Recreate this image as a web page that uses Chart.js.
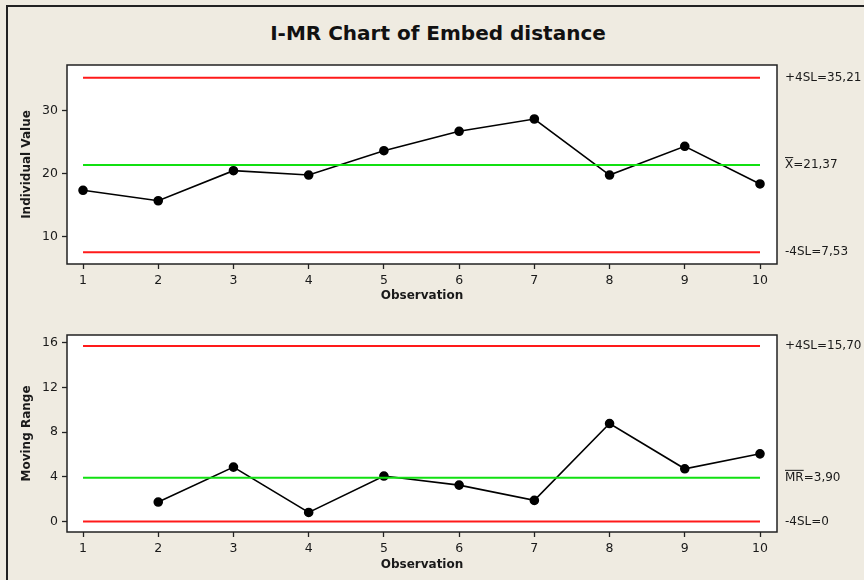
<!DOCTYPE html>
<html>
<head>
<meta charset="utf-8">
<script src="https://cdn.jsdelivr.net/npm/chart.js@4"></script>
<style>
  html, body { margin: 0; padding: 0; }
  body { width: 864px; height: 580px; background: #efebe1; position: relative; overflow: hidden; font-family: "DejaVu Sans", sans-serif; }
  #frame { position: absolute; left: 6px; top: 5px; width: 900px; height: 620px; border: 2px solid #222; }
  #title { position: absolute; left: 0; top: 20px; width: 876px; text-align: center; font: bold 20px "DejaVu Sans", sans-serif; color: #111; line-height: 26px; }
  canvas { position: absolute; left: 0; }
  #iChart { top: 0; }
  #mrChart { top: 300px; }
</style>
</head>
<body>
<div id="frame"></div>
<div id="title">I-MR Chart of Embed distance</div>
<canvas id="iChart" width="864" height="320"></canvas>
<canvas id="mrChart" width="864" height="280"></canvas>
<script>
// Dados
const observations = [1, 2, 3, 4, 5, 6, 7, 8, 9, 10];
const individualValues = [17.37, 15.71, 20.48, 19.79, 23.65, 26.73, 28.68, 19.79, 24.35, 18.37];
const movingRanges = [null, 1.73, 4.86, 0.80, 4.06, 3.25, 1.88, 8.76, 4.71, 6.05];

// Limites de controle: superior, central, inferior
const iLimits = [35.21, 21.37, 7.53];
const iLimitLabels = [["", "+4SL=35,21"], ["X", "=21,37"], ["", "-4SL=7,53"]];
const mrLimits = [15.70, 3.90, 0];
const mrLimitLabels = [["", "+4SL=15,70"], ["MR", "=3,90"], ["", "-4SL=0"]];

const iTicks = [10, 20, 30];
const mrTicks = [0, 4, 8, 12, 16];

const COLORS = { ucl: "#ff1a1a", center: "#11e011", data: "#000000", text: "#1a1a1a" };
const limitColors = [COLORS.ucl, COLORS.center, COLORS.ucl];

// Fundo branco e moldura da área do gráfico
const plotFrame = {
  id: "plotFrame",
  beforeDraw(chart) {
    const a = chart.chartArea, ctx = chart.ctx;
    ctx.save();
    ctx.fillStyle = "#ffffff";
    ctx.fillRect(a.left, a.top, a.right - a.left, a.bottom - a.top);
    ctx.restore();
  },
  afterDraw(chart) {
    const a = chart.chartArea, ctx = chart.ctx;
    ctx.save();
    ctx.strokeStyle = "#222";
    ctx.lineWidth = 1.5;
    ctx.strokeRect(a.left, a.top, a.right - a.left, a.bottom - a.top);

    // Rótulos dos limites à direita
    const labels = chart.options.plugins.plotFrame.labels;
    const values = chart.options.plugins.plotFrame.values;
    ctx.font = "12px 'DejaVu Sans'";
    ctx.fillStyle = COLORS.text;
    ctx.textBaseline = "middle";
    ctx.textAlign = "left";
    values.forEach((v, i) => {
      const y = chart.scales.y.getPixelForValue(v);
      let x = a.right + 8;
      const [barred, rest] = labels[i];
      if (barred) {
        const w = ctx.measureText(barred).width;
        ctx.fillText(barred, x, y);
        ctx.fillRect(x, y - 8, w, 1);
        x += w;
      }
      ctx.fillText(rest, x, y);
    });
    ctx.restore();
  }
};

const limitDatasets = (limits) => limits.map((v, i) => ({
  data: [{ x: observations[0], y: v }, { x: observations[observations.length - 1], y: v }],
  borderColor: limitColors[i],
  borderWidth: 2,
  pointRadius: 0,
  fill: false
}));

const makeChart = (el, cfg) => new Chart(el, {
  type: "line",
  data: {
    datasets: [
      ...limitDatasets(cfg.limits),
      {
        data: observations.map((x, i) => ({ x, y: cfg.values[i] })),
        borderColor: COLORS.data,
        backgroundColor: COLORS.data,
        borderWidth: 1.6,
        pointRadius: 4,
        pointHoverRadius: 4,
        tension: 0,
        spanGaps: false
      }
    ]
  },
  options: {
    responsive: false,
    animation: false,
    layout: { padding: { left: 16, right: 87, top: cfg.padTop, bottom: cfg.padBottom } },
    scales: {
      x: {
        type: "linear",
        min: 0.787,
        max: 10.226,
        afterBuildTicks: (s) => { s.ticks = observations.map(v => ({ value: v })); },
        afterFit: (s) => { s.height = cfg.xHeight; },
        ticks: { color: COLORS.text, font: { family: "DejaVu Sans", size: 12.5 }, padding: 4, maxRotation: 0 },
        grid: { drawOnChartArea: false, drawTicks: true, tickLength: 5, tickColor: "#222", tickWidth: 1.3 },
        border: { display: false },
        title: { display: true, text: "Observation", color: COLORS.text, font: { family: "DejaVu Sans", size: 12, weight: "bold" } }
      },
      y: {
        min: cfg.yMin,
        max: cfg.yMax,
        afterBuildTicks: (s) => { s.ticks = cfg.ticks.map(v => ({ value: v })); },
        afterFit: (s) => { s.width = 51; },
        ticks: { color: COLORS.text, font: { family: "DejaVu Sans", size: 12.5 }, padding: 4 },
        grid: { drawOnChartArea: false, drawTicks: true, tickLength: 5, tickColor: "#222", tickWidth: 1.3 },
        border: { display: false },
        title: { display: true, text: cfg.yTitle, color: COLORS.text, font: { family: "DejaVu Sans", size: 12, weight: "bold" } }
      }
    },
    plugins: {
      legend: { display: false },
      tooltip: { enabled: false },
      plotFrame: { labels: cfg.labels, values: cfg.limits }
    }
  },
  plugins: [plotFrame]
});

makeChart(document.getElementById("iChart"), {
  values: individualValues, limits: iLimits, labels: iLimitLabels, ticks: iTicks,
  yMin: 5.67, yMax: 37.25, yTitle: "Individual Value",
  padTop: 65, padBottom: 13, xHeight: 43
});

makeChart(document.getElementById("mrChart"), {
  values: movingRanges, limits: mrLimits, labels: mrLimitLabels, ticks: mrTicks,
  yMin: -0.95, yMax: 16.69, yTitle: "Moving Range",
  padTop: 35, padBottom: 4, xHeight: 44
});
</script>
</body>
</html>
